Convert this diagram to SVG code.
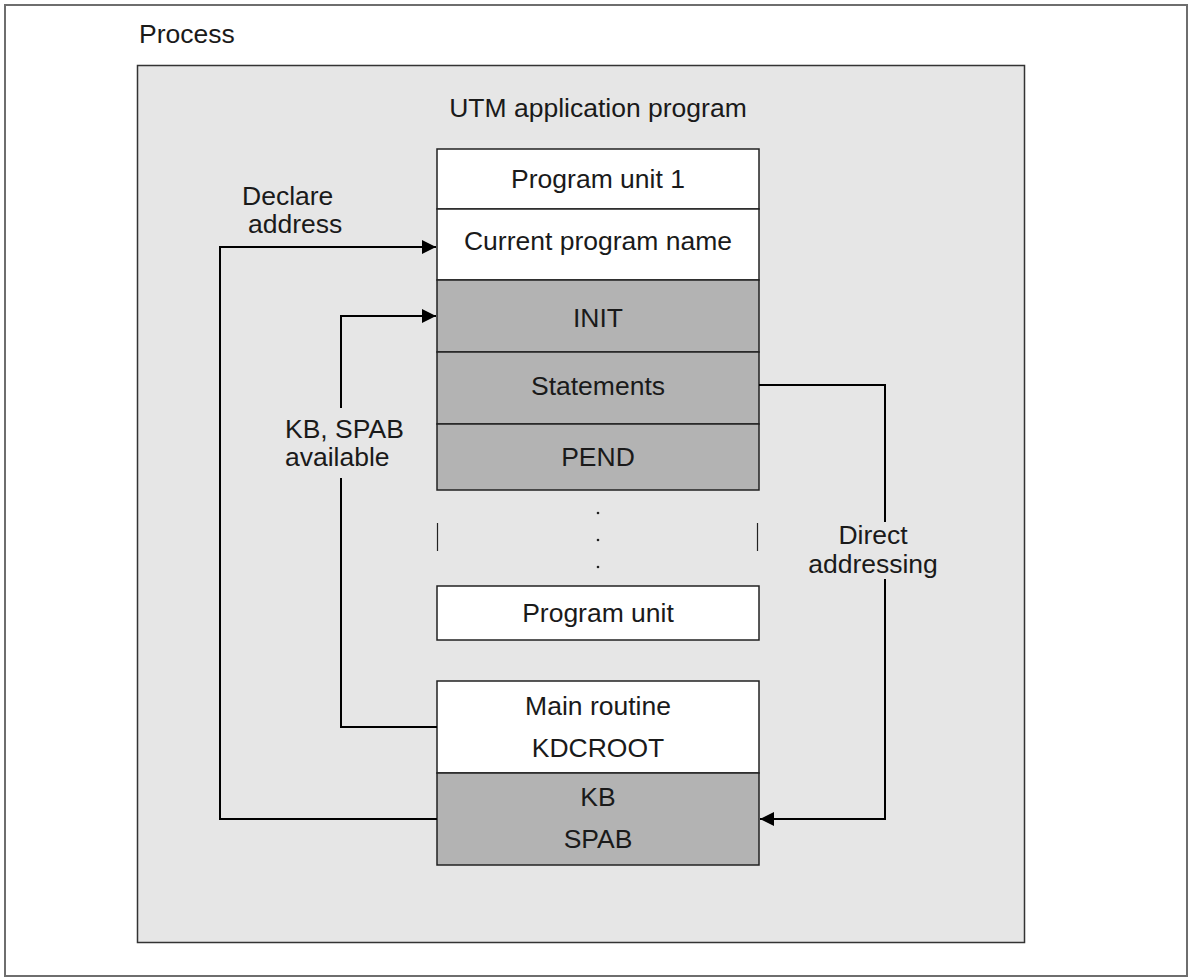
<svg xmlns="http://www.w3.org/2000/svg" width="1188" height="977" viewBox="0 0 1188 977">
<style>
text{font-family:"Liberation Sans",Arial,sans-serif;font-size:26.5px;fill:#1a1a1a}
.c{text-anchor:middle}
.w{fill:#ffffff;stroke:#222;stroke-width:1.5}
.g{fill:#b3b3b3;stroke:#222;stroke-width:1.5}
.ln{fill:none;stroke:#000;stroke-width:2}
</style>
<defs>
<marker id="ah" viewBox="0 0 14 14" refX="14" refY="7" markerWidth="14" markerHeight="14" markerUnits="userSpaceOnUse" orient="auto">
<path d="M0,0 L14,7 L0,14 Z" fill="#000"/>
</marker>
</defs>
<rect x="0" y="0" width="1188" height="977" fill="#ffffff"/>
<rect x="5" y="5" width="1182" height="971" fill="#ffffff" stroke="#6e6e6e" stroke-width="2"/>
<text x="139" y="43">Process</text>
<g id="process">
<rect x="137.5" y="65.5" width="887" height="877" fill="#e6e6e6" stroke="#333" stroke-width="1.5"/>
<text class="c" x="598" y="117">UTM application program</text>
</g>
<g id="unit1">
<rect class="w" x="437" y="149" width="322" height="60"/>
<text class="c" x="598" y="188">Program unit 1</text>
</g>
<g id="current">
<rect class="w" x="437" y="209" width="322" height="71"/>
<text class="c" x="598" y="250">Current program name</text>
</g>
<g id="init">
<rect class="g" x="437" y="280" width="322" height="72"/>
<text class="c" x="598" y="327">INIT</text>
</g>
<g id="statements">
<rect class="g" x="437" y="352" width="322" height="72"/>
<text class="c" x="598" y="395">Statements</text>
</g>
<g id="pend">
<rect class="g" x="437" y="424" width="322" height="66"/>
<text class="c" x="598" y="466">PEND</text>
</g>
<g id="gap">
<line x1="437.5" y1="523" x2="437.5" y2="551" stroke="#222" stroke-width="1.2"/>
<line x1="757.5" y1="523" x2="757.5" y2="551" stroke="#222" stroke-width="1.2"/>
<circle cx="598" cy="513" r="1.3" fill="#222"/>
<circle cx="598" cy="540" r="1.3" fill="#222"/>
<circle cx="598" cy="567" r="1.3" fill="#222"/>
</g>
<g id="unitn">
<rect class="w" x="437" y="586" width="322" height="54"/>
<text class="c" x="598" y="622">Program unit</text>
</g>
<g id="main">
<rect class="w" x="437" y="681" width="322" height="92"/>
<text class="c" x="598" y="715">Main routine</text>
<text class="c" x="598" y="757">KDCROOT</text>
</g>
<g id="kbspab">
<rect class="g" x="437" y="773" width="322" height="92"/>
<text class="c" x="598" y="806">KB</text>
<text class="c" x="598" y="848">SPAB</text>
</g>
<g id="connectors">
<polyline class="ln" points="437,819 220,819 220,247 436,247" marker-end="url(#ah)"/>
<polyline class="ln" points="437,727 341,727 341,478"/>
<polyline class="ln" points="341,408 341,316 436,316" marker-end="url(#ah)"/>
<polyline class="ln" points="759,385 885,385 885,522"/>
<polyline class="ln" points="885,579 885,819 760,819" marker-end="url(#ah)"/>
</g>
<g id="labels">
<text x="242" y="205">Declare</text>
<text x="248" y="233">address</text>
<text x="285" y="438">KB, SPAB</text>
<text x="285" y="466">available</text>
<text class="c" x="873" y="544">Direct</text>
<text class="c" x="873" y="573">addressing</text>
</g>
</svg>
